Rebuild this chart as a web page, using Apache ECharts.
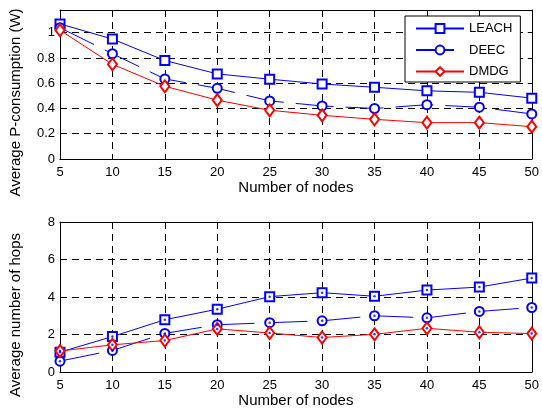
<!DOCTYPE html>
<html lang="en">
<head>
    <meta charset="UTF-8">
    <title>Nodes</title>
    <script type="text/javascript" src="https://cdn.jsdelivr.net/npm/echarts@6/dist/echarts.min.js"></script>
    <style>
      html, body {margin: 0; padding: 0; background: #fff;}
    </style>
</head>
<body>

  <div id="chart" style="width: 542px;height: 410px"></div>

<script type="text/javascript">

  // 数据
  var nodes = [5, 10, 15, 20, 25, 30, 35, 40, 45, 50];

  var powerLeach = [1.07, 0.95, 0.78, 0.674, 0.632, 0.594, 0.568, 0.54, 0.528, 0.482];
  var powerDeec  = [1.04, 0.834, 0.634, 0.56, 0.46, 0.42, 0.40, 0.43, 0.41, 0.357];
  var powerDmdg  = [1.02, 0.75, 0.576, 0.466, 0.386, 0.346, 0.314, 0.288, 0.288, 0.256];

  var hopsLeach = [1.06, 1.89, 2.79, 3.35, 4.02, 4.23, 4.04, 4.37, 4.53, 5.01];
  var hopsDeec  = [0.58, 1.15, 2.06, 2.52, 2.63, 2.73, 3.0, 2.89, 3.23, 3.44];
  var hopsDmdg  = [1.12, 1.45, 1.68, 2.3, 2.08, 1.84, 2.01, 2.33, 2.12, 2.05];

  var xTicks = [5, 10, 15, 20, 25, 30, 35, 40, 45, 50];
  var powerTicks = [0, 0.2, 0.4, 0.6, 0.8, 1];
  var hopsTicks = [0, 2, 4, 6, 8];

  var blue = '#0000ff';
  var red = '#ff0000';
  var font = 'Liberation Sans, Arial, sans-serif';

  function pairs(ys){
    var arr = [];
    for(var i = 0; i < nodes.length; i++){
      arr.push([nodes[i], ys[i]]);
    }
    return arr;
  }

  function lineSeries(name, ys, idx, color, symbol, size, dash){
    return {
      name: name,
      type: 'line',
      xAxisIndex: idx,
      yAxisIndex: idx,
      data: pairs(ys),
      symbol: symbol,
      symbolSize: size,
      showAllSymbol: true,
      animation: false,
      itemStyle: {color: color, borderColor: color, borderWidth: 1},
      lineStyle: {color: color, width: 1, type: dash || 'solid'},
      z: 5
    };
  }

  function dotSeries(name, ys, idx, color){
    return {
      name: name,
      type: 'scatter',
      xAxisIndex: idx,
      yAxisIndex: idx,
      data: pairs(ys),
      symbol: 'circle',
      symbolSize: 2.5,
      animation: false,
      itemStyle: {color: color},
      z: 6
    };
  }

  var gridLine = {show: true, lineStyle: {color: '#000', width: 1, type: [7, 5]}};

  function xAxisMain(idx){
    return {
      type: 'value', gridIndex: idx, min: 5, max: 50, interval: 5,
      name: 'Number of nodes', nameLocation: 'middle', nameGap: 21,
      nameTextStyle: {fontFamily: font, fontSize: 15, color: '#000'},
      axisLine: {show: true, onZero: false, lineStyle: {color: '#000', width: 1}},
      axisTick: {show: true, inside: true, length: 4, lineStyle: {color: '#000'}},
      axisLabel: {fontFamily: font, fontSize: 13, color: '#000', margin: 7},
      splitLine: gridLine
    };
  }

  function xAxisTop(idx){
    return {
      type: 'value', gridIndex: idx, min: 5, max: 50, interval: 5, position: 'top',
      axisLine: {show: true, onZero: false, lineStyle: {color: '#000', width: 1}},
      axisTick: {show: true, inside: true, length: 4, lineStyle: {color: '#000'}},
      axisLabel: {show: false},
      splitLine: {show: false}
    };
  }

  function yAxisMain(idx, max, interval, name){
    return {
      type: 'value', gridIndex: idx, min: 0, max: max, interval: interval,
      name: name, nameLocation: 'middle', nameGap: 37,
      nameTextStyle: {fontFamily: font, fontSize: 15, color: '#000', padding: [0, 36, 0, 0]},
      axisLine: {show: true, onZero: false, lineStyle: {color: '#000', width: 1}},
      axisTick: {show: true, inside: true, length: 4, lineStyle: {color: '#000'}},
      axisLabel: {fontFamily: font, fontSize: 13, color: '#000', margin: 5, showMaxLabel: idx === 1},
      splitLine: gridLine
    };
  }

  function yAxisRight(idx, max, interval){
    return {
      type: 'value', gridIndex: idx, min: 0, max: max, interval: interval, position: 'right',
      axisLine: {show: true, onZero: false, lineStyle: {color: '#000', width: 1}},
      axisTick: {show: true, inside: true, length: 4, lineStyle: {color: '#000'}},
      axisLabel: {show: false},
      splitLine: {show: false}
    };
  }

  var chart = echarts.init(document.getElementById('chart'), null, {renderer: 'canvas'});

  var option = {
    backgroundColor: '#fff',
    animation: false,
    grid: [
      {left: 60, top: 10, width: 473, height: 149},
      {left: 60, top: 222, width: 473, height: 150}
    ],
    xAxis: [xAxisMain(0), xAxisMain(1), xAxisTop(0), xAxisTop(1)],
    yAxis: [
      yAxisMain(0, 1.18, 0.2, 'Average P-consumption (W)'),
      yAxisMain(1, 8, 2, 'Average number of hops'),
      yAxisRight(0, 1.18, 0.2),
      yAxisRight(1, 8, 2)
    ],
    legend: {
      data: ['LEACH', 'DEEC', 'DMDG'],
      orient: 'vertical',
      left: 405,
      top: 16,
      width: 121,
      padding: [6, 8, 4, 10],
      itemWidth: 48,
      itemHeight: 11,
      itemGap: 8.5,
      backgroundColor: '#fff',
      borderColor: '#000',
      borderWidth: 1,
      textStyle: {fontFamily: font, fontSize: 13, color: '#000'}
    },
    series: [
      lineSeries('LEACH', powerLeach, 0, blue, 'emptyRect', 9),
      lineSeries('DEEC', powerDeec, 0, blue, 'emptyCircle', 9, [38, 12]),
      lineSeries('DMDG', powerDmdg, 0, red, 'emptyDiamond', [9, 12]),
      lineSeries('LEACH', hopsLeach, 1, blue, 'emptyRect', 9),
      lineSeries('DEEC', hopsDeec, 1, blue, 'emptyCircle', 9, [40, 13]),
      lineSeries('DMDG', hopsDmdg, 1, red, 'emptyDiamond', [9, 12]),
      dotSeries('LEACH-pt', hopsLeach, 1, blue),
      dotSeries('DEEC-pt', hopsDeec, 1, blue),
      dotSeries('DMDG-pt', hopsDmdg, 1, blue)
    ]
  };

  chart.setOption(option);

</script>
</body>
</html>
